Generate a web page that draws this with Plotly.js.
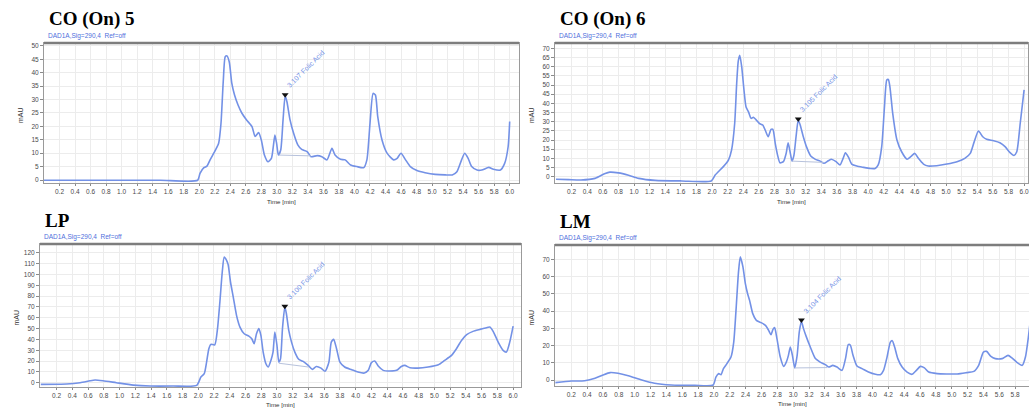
<!DOCTYPE html>
<html>
<head>
<meta charset="utf-8">
<script src="https://cdn.plot.ly/plotly-3.0.1.min.js"></script>
<style>
html,body{margin:0;padding:0;background:#fff;overflow:hidden;}
#chart{width:1029px;height:408px;}
</style>
</head>
<body>
<div id="chart"></div>
<script>
// ---------------- DATA ----------------
const panelTitles = ["CO (On) 5", "CO (On) 6", "LP", "LM"];
const signalLabel = "DAD1A,Sig=290,4  Ref=off";
const xTicks = [0.2,0.4,0.6,0.8,1.0,1.2,1.4,1.6,1.8,2.0,2.2,2.4,2.6,2.8,3.0,3.2,3.4,3.6,3.8,4.0,4.2,4.4,4.6,4.8,5.0,5.2,5.4,5.6,5.8,6.0];

// CO (On) 5
const co5Time = [0.00,0.50,1.00,1.50,1.98,2.01,2.06,2.10,2.14,2.21,
  2.25,2.28,2.31,2.335,2.357,2.387,2.42,2.455,2.50,2.55,
  2.61,2.68,2.72,2.765,2.80,2.84,2.885,2.93,2.954,2.975,
  2.997,3.02,3.05,3.08,3.107,3.13,3.17,3.216,3.27,3.32,
  3.39,3.44,3.52,3.58,3.645,3.71,3.75,3.82,3.88,3.95,
  4.03,4.12,4.16,4.20,4.24,4.27,4.30,4.355,4.42,4.505,
  4.55,4.60,4.655,4.72,4.805,4.91,5.04,5.17,5.26,5.32,
  5.38,5.42,5.465,5.51,5.58,5.64,5.73,5.79,5.88,5.935,
  5.98,6.00];
const co5Signal = [-0.1,-0.1,-0.1,-0.1,-0.1,2.5,4.6,5.2,7.5,11.2,
  13.7,21,37,46,46.3,44,36,31.7,28,24.9,
  22.4,19.9,16.2,17.7,14.9,9.3,6.8,8.1,12.4,16.8,
  13.7,9.3,11.2,22.4,31.3,29.2,22.4,17.4,13.1,11.4,
  10.6,8.7,9.1,8.7,7.5,11.8,9.3,7.7,7.5,5.6,
  5.0,4.6,7.5,21,32.3,31.7,23.6,14.9,10,7.5,
  8.1,10,7.7,5.0,3.5,2.7,2.1,1.9,1.9,3.1,
  7.5,10,8.1,5,3.7,3.7,4.7,4.0,3.7,6.2,
  12.4,21.8];

// CO (On) 6
const co6Time = [0.00,0.16,0.32,0.50,0.63,0.69,0.80,0.93,1.06,1.27,
  1.61,1.99,2.04,2.08,2.145,2.21,2.25,2.29,2.316,2.336,
  2.355,2.38,2.41,2.436,2.466,2.50,2.53,2.565,2.607,2.65,
  2.69,2.72,2.756,2.78,2.81,2.84,2.87,2.915,2.95,2.975,
  3.0,3.026,3.05,3.077,3.105,3.13,3.17,3.21,3.265,3.32,
  3.385,3.435,3.49,3.53,3.59,3.64,3.68,3.71,3.75,3.79,
  3.855,3.94,4.03,4.09,4.13,4.175,4.21,4.24,4.26,4.28,
  4.316,4.37,4.43,4.50,4.547,4.60,4.645,4.71,4.77,4.88,
  5.01,5.14,5.24,5.31,5.36,5.415,5.47,5.52,5.61,5.69,
  5.756,5.82,5.87,5.906,5.95,6.00];
const co6Signal = [-1.4,-1.6,-1.8,-0.9,1.8,2.5,2.1,0.8,-0.9,-2.0,
  -2.3,-2.3,0.9,2.7,5.5,9.1,14.5,29,51,63,
  66.2,60,47,38,35.5,31.8,32.4,31,29,28.2,
  24.5,21.8,25.8,25.8,18.2,11.8,7.6,8.2,12.7,18.5,
  13.6,8.5,11.8,21.8,30.9,28.2,21.8,16.4,11.3,9.6,
  8.5,7.3,8.7,9.5,8.2,6.4,10,13.1,10.5,6.9,
  5.8,5.1,4.5,4.5,6.4,16.4,38,52.7,53,49,
  34.5,20,13.6,9.5,10.9,12.7,10,6.9,5.8,6.0,
  6.9,8.2,10,12.7,19,24.9,21.8,20.4,19.6,18.5,
  16.4,13.1,11.6,13.6,29,47.3];

// LP
const lpTime = [0.00,0.33,0.50,0.625,0.69,0.79,0.96,1.175,1.39,1.68,
  1.98,2.034,2.076,2.106,2.135,2.16,2.21,2.245,2.275,2.305,
  2.33,2.36,2.38,2.41,2.445,2.487,2.53,2.584,2.643,2.68,
  2.71,2.74,2.77,2.796,2.825,2.86,2.89,2.923,2.95,2.973,
  3.0,3.024,3.045,3.07,3.10,3.12,3.15,3.185,3.227,3.278,
  3.333,3.397,3.45,3.50,3.56,3.61,3.66,3.69,3.72,3.757,
  3.8,3.86,3.95,4.03,4.11,4.16,4.20,4.243,4.286,4.35,
  4.434,4.52,4.58,4.624,4.69,4.79,4.92,5.05,5.13,5.217,
  5.28,5.344,5.41,5.49,5.577,5.66,5.704,5.746,5.81,5.873,
  5.915,5.957,6.0];
const lpSignal = [-1.5,-1.2,0,1.8,2.5,1.8,0,-2.2,-3.1,-3.1,
  -2.5,5.2,8.3,19,31.4,35.4,35,50,74.5,102,
  116,113,109,93,79,62,51.4,45.2,43,40.6,
  36,45.2,50,43.7,28.3,17.5,14.5,20.6,28.3,46.8,
  34.5,19,22,50,70,63.7,48.3,37.5,28.3,21.5,
  19.7,16,12.3,15,13.5,10.5,19,37.5,40,31.4,
  19,14.5,12,9.8,8.9,11.4,18.5,20,15.4,11.4,
  10.8,11.4,15,16,13.8,13.5,14.5,16.6,20.6,25.2,
  31.4,39,44.3,47.4,49.2,50.8,51.4,47.4,37.5,29.8,
  28.3,37.5,52.3];

// LM
const lmTime = [0.00,0.20,0.37,0.50,0.60,0.69,0.79,0.92,1.09,1.25,
  1.46,1.76,1.99,2.025,2.06,2.09,2.12,2.164,2.215,2.25,
  2.28,2.31,2.333,2.366,2.396,2.425,2.45,2.49,2.535,2.594,
  2.65,2.69,2.72,2.745,2.766,2.795,2.837,2.88,2.913,2.94,
  2.964,2.99,3.02,3.05,3.077,3.104,3.13,3.166,3.216,3.28,
  3.34,3.406,3.45,3.50,3.553,3.616,3.66,3.695,3.72,3.755,
  3.805,3.87,3.95,4.037,4.10,4.14,4.184,4.226,4.25,4.28,
  4.32,4.374,4.437,4.5,4.555,4.605,4.656,4.71,4.816,4.94,
  5.07,5.19,5.28,5.34,5.40,5.44,5.49,5.55,5.636,5.71,
  5.76,5.826,5.89,5.93,5.97,6.0];
const lmSignal = [-1.5,-0.6,-0.4,1.0,2.9,4.3,3.9,2.5,0,-1.9,
  -2.9,-3.1,-2.9,1.7,3.7,3.1,6.6,9.5,13.3,22,
  41.4,62.7,71.4,65.6,56,50,46.2,38.5,34.6,33.3,
  31.7,28.8,26.3,29.4,30.4,24,13.3,7.9,10.4,14.3,
  19.1,14.3,7.0,14.3,27.9,34,29.8,25,19.1,12.4,
  10.4,8.9,7.5,8.5,7.5,5.6,12.4,20.5,20.3,14.3,
  8.1,6.6,4.6,3.3,3.1,5.6,13.3,22,22.8,19.1,
  12.4,7.5,4.6,3.3,5.6,7.9,7.0,4.6,3.7,3.5,
  3.5,4.3,5.0,8.5,16.2,16.6,13.9,12.4,12.4,14.3,
  12.8,10.1,8.5,13.3,25.9,38];

// Folic acid peak (retention time, apex height) and integration baseline
const folicLabels = ["3.107 Folic Acid", "3.105 Folic Acid", "3.100 Folic Acid", "3.104 Folic Acid"];
const folicTime = [3.107, 3.105, 3.100, 3.104];
const folicHeight = [31.8, 31.5, 70.5, 34.8];
const baseStartTime = [3.025, 3.026, 3.024, 3.02];
const baseEndTime = [3.44, 3.43, 3.40, 3.43];
const baseStartValue = [9.3, 8.5, 18.0, 7.0];
const baseEndValue = [9.0, 7.8, 14.5, 7.2];

const allTime = [co5Time, co6Time, lpTime, lmTime];
const allSignal = [co5Signal, co6Signal, lpSignal, lmSignal];

// ---------------- LAYOUT GEOMETRY (pixels) ----------------
const W = 1029, H = 408;
const fx = p => p / W;
const fy = p => 1 - p / H;
const panels = [
  {l:44,  r:519,  t:43,  b:183, xr:[0,6.12],      yr:[-1.12,51.1],  dy:5,  tg:13},
  {l:555, r:1028, t:43,  b:183, xr:[-0.013,6.05], yr:[-3.43,72.9],  dy:5,  tg:13},
  {l:40,  r:521,  t:244, b:387, xr:[-0.01,6.1],   yr:[-3.97,128.1], dy:10, tg:12},
  {l:555, r:1029, t:245, b:386, xr:[-0.005,5.975],yr:[-3.48,78.3],  dy:10, tg:12}
];

const lineColor = '#7391e6';
const tickFont = {family:'Liberation Sans, Arial, sans-serif', size:6.5, color:'#4a4a4a'};
const data = [];
const layout = {
  width: W, height: H,
  margin: {l:0, r:0, t:0, b:0},
  paper_bgcolor: '#ffffff',
  plot_bgcolor: '#ffffff',
  showlegend: false,
  annotations: [],
  shapes: []
};

panels.forEach((p, i) => {
  const n = i + 1;
  const xa = 'x' + (n === 1 ? '' : n), ya = 'y' + (n === 1 ? '' : n);
  layout['xaxis' + (n === 1 ? '' : n)] = {
    domain: [fx(p.l), fx(p.r)], range: p.xr, anchor: ya,
    tickmode: 'array', tickvals: xTicks, ticktext: xTicks.map(v => v.toFixed(1)),
    ticks: 'outside', ticklen: 2, tickcolor: '#8a8a8a', tickfont: tickFont,
    showgrid: true, gridcolor: '#ececec', gridwidth: 1,
    showline: true, linecolor: '#9a9a9a', linewidth: 1, mirror: true,
    zeroline: false, fixedrange: true
  };
  layout['yaxis' + (n === 1 ? '' : n)] = {
    domain: [fy(p.b), fy(p.t)], range: p.yr, anchor: xa,
    tick0: 0, dtick: p.dy, ticks: 'outside', ticklen: 3, tickcolor: '#8a8a8a', tickfont: tickFont,
    showgrid: true, gridcolor: '#ececec', gridwidth: 1,
    showline: true, linecolor: '#9a9a9a', linewidth: 1, mirror: true,
    zeroline: false, fixedrange: true
  };

  data.push({
    x: allTime[i], y: allSignal[i], xaxis: xa, yaxis: ya,
    type: 'scatter', mode: 'lines',
    line: {color: lineColor, width: 1.6, shape: 'spline', smoothing: 0.6},
    hoverinfo: 'skip'
  });
  data.push({
    x: [baseStartTime[i], baseEndTime[i]], y: [baseStartValue[i], baseEndValue[i]],
    xaxis: xa, yaxis: ya, type: 'scatter', mode: 'lines',
    line: {color: '#b7c2dc', width: 1}, hoverinfo: 'skip'
  });
  data.push({
    x: [folicTime[i]], y: [folicHeight[i]], xaxis: xa, yaxis: ya,
    type: 'scatter', mode: 'markers',
    marker: {symbol: 'triangle-down', size: 6, color: '#111'}, hoverinfo: 'skip'
  });

  // thicker top border
  layout.shapes.push({type:'line', xref:'paper', yref:'paper',
    x0: fx(p.l), x1: fx(p.r), y0: fy(p.t), y1: fy(p.t),
    line: {color:'#7d7d7d', width:2.5}});

  // panel title
  layout.annotations.push({
    xref:'paper', yref:'paper', x: fx(p.l + 3), y: fy(p.t - 11),
    xanchor:'left', yanchor:'bottom', showarrow:false,
    text: '<b>' + panelTitles[i] + '</b>',
    font: {family:'Liberation Serif, Times New Roman, serif', size:19, color:'#000'}
  });
  // signal label
  layout.annotations.push({
    xref:'paper', yref:'paper', x: fx(p.l + 2), y: fy(p.t - 1),
    xanchor:'left', yanchor:'bottom', showarrow:false,
    text: signalLabel,
    font: {family:'Liberation Sans, Arial, sans-serif', size:6.5, color:'#4f6fdc'}
  });
  // y axis title
  layout.annotations.push({
    xref:'paper', yref:'paper', x: fx(p.l - 24), y: fy((p.t + p.b) / 2 + 2),
    xanchor:'center', yanchor:'middle', showarrow:false, textangle:-90,
    text: 'mAU', font: {family:'Liberation Sans, Arial, sans-serif', size:7, color:'#333'}
  });
  // x axis title
  layout.annotations.push({
    xref:'paper', yref:'paper', x: fx((p.l + Math.min(p.r, 1029)) / 2), y: fy(p.b + p.tg),
    xanchor:'center', yanchor:'top', showarrow:false,
    text: 'Time [min]', font: {family:'Liberation Sans, Arial, sans-serif', size:6.2, color:'#333'}
  });
  // peak label
  layout.annotations.push({
    xref: xa, yref: ya, x: folicTime[i], y: folicHeight[i],
    xanchor:'left', yanchor:'bottom', showarrow:false, textangle:-45,
    xshift: -2, yshift: 3,
    text: folicLabels[i], font: {family:'Liberation Sans, Arial, sans-serif', size:7, color:lineColor}
  });
});

Plotly.newPlot('chart', data, layout, {staticPlot:true, displayModeBar:false});
</script>
</body>
</html>
